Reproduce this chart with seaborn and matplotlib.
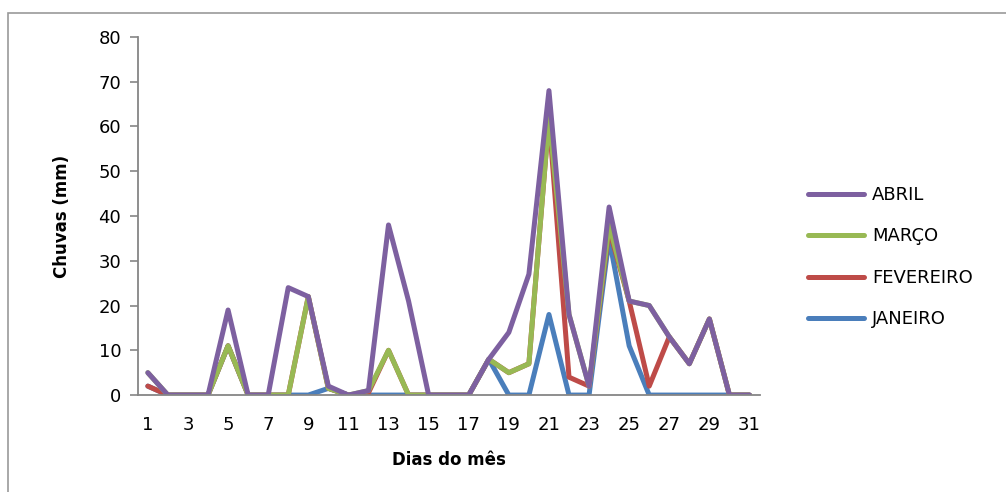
import pandas as pd
import matplotlib
matplotlib.use("Agg")
import matplotlib.pyplot as plt
import seaborn as sns
from matplotlib.patches import Rectangle
from matplotlib.lines import Line2D

# dados (chuvas em mm por dia)
dias = list(range(1, 32))
janeiro = [2, 0, 0, 0, 11, 0, 0, 0, 0, 1.5, 0, 0, 0, 0, 0, 0, 0, 8, 0, 0, 18, 0, 0, 35, 11, 0, 0, 0, 0, 0, 0]
fevereiro = [2, 0, 0, 0, 11, 0, 0, 0, 22, 1.5, 0, 0.5, 10, 0, 0, 0, 0, 8, 5, 7, 62, 4, 2, 37, 21, 2, 13, 7, 17, 0, 0]
marco = [5, 0, 0, 0, 11, 0, 0, 0, 22, 1.5, 0, 1, 10, 0, 0, 0, 0, 8, 5, 7, 62, 18, 2, 38, 21, 20, 13, 7, 17, 0, 0]
abril = [5, 0, 0, 0, 19, 0, 0, 24, 22, 2, 0, 1, 38, 21, 0, 0, 0, 8, 14, 27, 68, 18, 2, 42, 21, 20, 13, 7, 17, 0, 0]

meses = ['JANEIRO', 'FEVEREIRO', 'MARÇO', 'ABRIL']
cores = {'JANEIRO': '#4A7EBB', 'FEVEREIRO': '#BE4B48', 'MARÇO': '#98B954', 'ABRIL': '#7D60A0'}

df = pd.DataFrame({'dia': dias, 'JANEIRO': janeiro, 'FEVEREIRO': fevereiro,
                   'MARÇO': marco, 'ABRIL': abril})
data = df.melt(id_vars='dia', var_name='mes', value_name='chuva')

sns.set_style('white')
plt.rcParams['font.family'] = ['DejaVu Sans']
plt.rcParams['text.color'] = 'black'
plt.rcParams['xtick.labelcolor'] = 'black'
plt.rcParams['ytick.labelcolor'] = 'black'
plt.rcParams['axes.labelcolor'] = 'black'

fig = plt.figure(figsize=(10.06, 4.92), dpi=100)
ax = fig.add_axes([0.137, 0.197, 0.618, 0.728])

lw = 3.6
sns.lineplot(data=data, x='dia', y='chuva', hue='mes', hue_order=meses,
             palette=cores, linewidth=lw, ax=ax, legend=False,
             solid_joinstyle='round', solid_capstyle='round')

ax.set_xlim(0.5, 31.5)
ax.set_ylim(0, 80)
ax.set_yticks(range(0, 81, 10))
ax.set_xticks(range(1, 32, 2))
ax.set_xticks([d + 0.5 for d in range(0, 32)], minor=True)
ax.tick_params(axis='x', which='major', length=0, pad=15, labelsize=13)
ax.tick_params(axis='x', which='minor', length=6, color='#868686', width=1.2)
ax.tick_params(axis='y', length=6, color='#868686', width=1.2, labelsize=13, pad=6, left=True)

for s in ['top', 'right']:
    ax.spines[s].set_visible(False)
for s in ['left', 'bottom']:
    ax.spines[s].set_color('#868686')
    ax.spines[s].set_linewidth(1.3)

ax.set_xlabel('Dias do mês', fontsize=12, fontweight='bold', labelpad=12)
ax.set_ylabel('Chuvas (mm)', fontsize=12, fontweight='bold', labelpad=20)

# legenda na ordem inversa, como no Excel
handles = [Line2D([0], [0], color=cores[m], linewidth=lw, solid_capstyle='round') for m in meses[::-1]]
fig.legend(handles, meses[::-1], loc='upper left', bbox_to_anchor=(0.787, 0.655),
           frameon=False, fontsize=13, handlelength=3.1, labelspacing=1.3,
           handletextpad=0.45)

# moldura da area do grafico
fig.patches.append(Rectangle((0.008, -0.1), 1.1, 0.1 + 0.974, transform=fig.transFigure,
                             fill=False, edgecolor='#9a9a9a', linewidth=1.2))

fig.savefig('out.png', dpi=100)
